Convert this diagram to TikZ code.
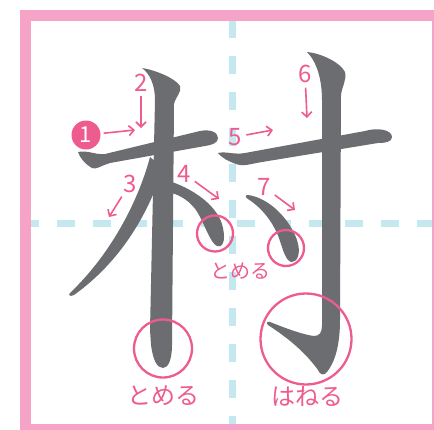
\documentclass[tikz,border=0pt]{standalone}
\usepackage{fontspec}
\newfontfamily\jpfont{Noto Sans CJK JP}
\usetikzlibrary{arrows.meta}
\definecolor{inkgray}{HTML}{6C6D71}
\definecolor{markpink}{HTML}{EE5B8F}
\definecolor{framepink}{HTML}{F5A3C7}
\definecolor{guideblue}{HTML}{C5E8F0}

\begin{document}
\begin{tikzpicture}[x=1pt,y=-1pt,>={Straight Barb[length=5pt,width=10pt]},
  num/.style={text=markpink,font=\jpfont\fontsize{24}{24}\selectfont,inner sep=1.5pt},
  hint/.style={text=markpink,font=\jpfont\fontsize{#1}{#1}\selectfont,inner sep=0pt},
  ring/.style={draw=markpink,line width=2.3pt},
  guide/.style={draw=guideblue,line width=7pt,dash pattern=on 18pt off 18pt},
  order/.style={->,draw=markpink,line width=1.6pt,shorten <=3pt},
  inkfill/.style={fill=inkgray}]
\useasboundingbox (0,0) rectangle (434,429);
\clip (0,0) rectangle (434,429);
\fill[white] (0,0) rectangle (434,429);
% guide lines and frame
\draw[guide] (232.5,20) -- (232.5,429);
\draw[guide] (21,223) -- (434,223);
\draw[framepink,line width=11pt] (25.5,15.5) rectangle (437.5,429.5);
% strokes of the character
\fill[inkfill] (78,152) .. controls (88,150) and (95,155) .. (105,154) -- (200,131)
  .. controls (210,129) and (218,132) .. (218,138) .. controls (218,143) and (212,145) .. (205,146)
  -- (110,163) .. controls (100,166) and (96,170) .. (92,168) .. controls (85,164) and (80,158) .. (78,152) -- cycle;
\fill[inkfill] (142,68) .. controls (155,70) and (175,78) .. (180,86) .. controls (182,92) and (176,96) .. (174,104)
  -- (172,345) .. controls (172,360) and (168,368) .. (163,368) .. controls (157,368) and (153,360) .. (151,345)
  -- (150,330) -- (155,100) .. controls (155,85) and (150,74) .. (142,68) -- cycle;
\fill[inkfill] (150,157) .. controls (140,195) and (115,250) .. (70,293) .. controls (68,295) and (70,297) .. (74,295)
  .. controls (120,262) and (148,215) .. (163,168) -- cycle;
\fill[inkfill] (172,182) .. controls (195,190) and (219,207) .. (223,228) .. controls (226,242) and (222,248) .. (217,246)
  .. controls (210,243) and (204,222) .. (196,210) .. controls (190,202) and (182,196) .. (172,193) -- cycle;
\fill[inkfill] (218,153) .. controls (226,151) and (234,155) .. (245,153) -- (365,131)
  .. controls (378,127) and (392,130) .. (392,137) .. controls (392,142) and (385,143) .. (378,143)
  -- (262,162) .. controls (250,164) and (242,167) .. (236,164) .. controls (228,161) and (222,158) .. (218,153) -- cycle;
\fill[inkfill] (307,52) .. controls (320,53) and (340,62) .. (345,72) .. controls (347,80) and (342,86) .. (341,95)
  -- (340,320) .. controls (340,345) and (335,362) .. (327,372) .. controls (324,376) and (320,375) .. (318,370)
  .. controls (305,352) and (288,338) .. (268,325) .. controls (266,323) and (267,321) .. (270,322)
  .. controls (290,330) and (305,335) .. (314,336) .. controls (320,336) and (322,332) .. (322,325)
  -- (322,100) .. controls (322,80) and (317,62) .. (307,52) -- cycle;
\fill[inkfill] (248,195) .. controls (270,198) and (290,220) .. (297,240) .. controls (301,252) and (298,262) .. (292,262)
  .. controls (286,262) and (283,250) .. (279,238) .. controls (273,222) and (262,208) .. (248,199)
  .. controls (245,197) and (245,195) .. (248,195) -- cycle;
% rings
\draw[ring] (215,233.5) circle (18);
\draw[ring] (286,248) circle (18);
\draw[ring] (163,348.5) circle (29);
\draw[ring] (306,339) circle (45.5);
% labels
\node[hint=20] (stopa) at (240,271) {とめる};
\node[hint=24] (stopb) at (163,396) {とめる};
\node[hint=24] (flick) at (307,396) {はねる};
% stroke order
\node[circle,fill=markpink,text=white,minimum size=29pt,inner sep=0pt,font=\jpfont\fontsize{22}{22}\selectfont] (n1) at (86,135) {1};
\node[num] (n2) at (141,82.5) {2};
\node[num] (n3) at (130,183.5) {3};
\node[num] (n4) at (184,173.5) {4};
\node[num] (n5) at (235,137) {5};
\node[num] (n6) at (305,74) {6};
\node[num] (n7) at (264,187) {7};
\coordinate (e1) at (135,130);
\coordinate (e2) at (141,128);
\coordinate (e3) at (109,217);
\coordinate (e4) at (219,199);
\coordinate (e5) at (273,130);
\coordinate (e6) at (307,118);
\coordinate (e7) at (295,210);
\foreach \i in {1,...,7}
  \draw[order] (n\i) -- (e\i);
\end{tikzpicture}
\end{document}
